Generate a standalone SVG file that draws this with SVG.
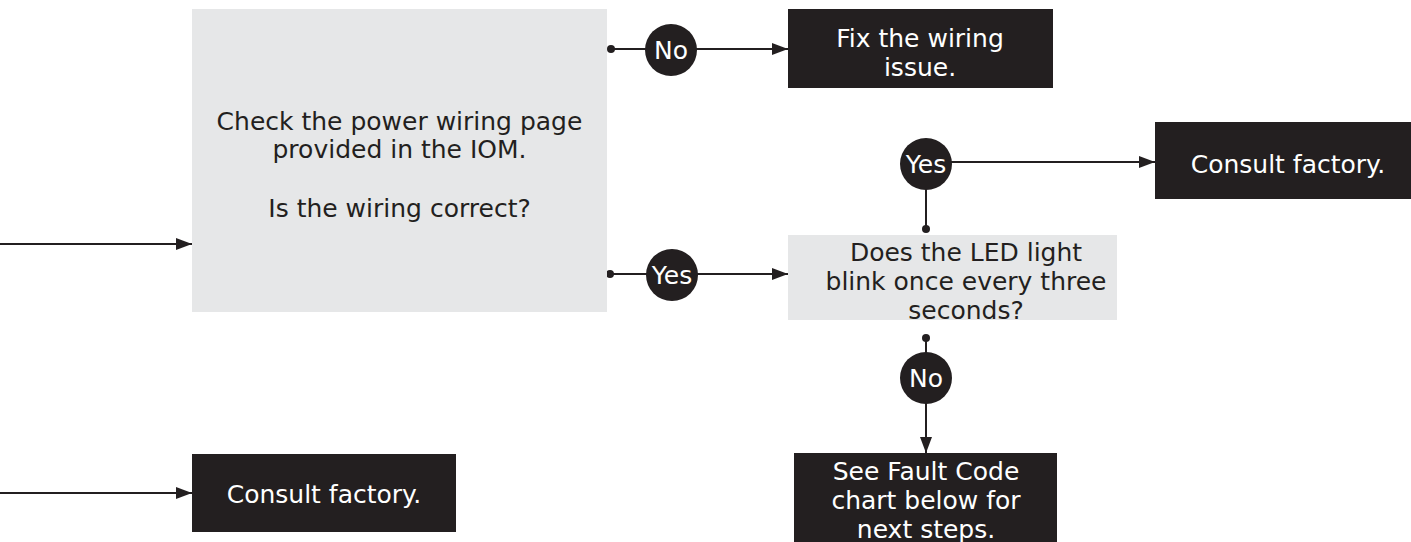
<svg xmlns="http://www.w3.org/2000/svg" width="1411" height="542" viewBox="0 0 1411 542">
<style>
text{font-family:"DejaVu Sans","Liberation Sans",sans-serif;font-size:25px;text-anchor:middle}
.q{fill:#e6e7e8}
.b{fill:#231f20}
.dt{fill:#231f20}
.wt{fill:#ffffff}
.ln{stroke:#231f20;stroke-width:2;fill:none}
.dot{fill:#231f20}
.lab{fill:#231f20}
</style>
<defs>
<marker id="ah" markerWidth="16" markerHeight="12" refX="16" refY="6" orient="auto" markerUnits="userSpaceOnUse">
<path d="M0,0 L16,6 L0,12 Z" fill="#231f20"/>
</marker>
</defs>
<g id="connectors">
<line class="ln" x1="0" y1="244" x2="192" y2="244" marker-end="url(#ah)"/>
<line class="ln" x1="0" y1="493" x2="192" y2="493" marker-end="url(#ah)"/>
<line class="ln" x1="611" y1="49" x2="788" y2="49" marker-end="url(#ah)"/>
<circle class="dot" cx="611" cy="49" r="4"/>
<line class="ln" x1="610" y1="274" x2="788" y2="274" marker-end="url(#ah)"/>
<circle class="dot" cx="610" cy="274" r="4"/>
<line class="ln" x1="926" y1="229" x2="926" y2="164"/>
<circle class="dot" cx="926" cy="229" r="4"/>
<line class="ln" x1="926" y1="162" x2="1155" y2="162" marker-end="url(#ah)"/>
<line class="ln" x1="926" y1="338" x2="926" y2="453" marker-end="url(#ah)"/>
<circle class="dot" cx="926" cy="338" r="4"/>
</g>
<g id="check-wiring">
<rect class="q" x="192" y="9" width="415" height="303"/>
<text class="dt" x="399.5" y="130">Check the power wiring page</text>
<text class="dt" x="399.5" y="158">provided in the IOM.</text>
<text class="dt" x="399.5" y="217">Is the wiring correct?</text>
</g>
<g id="fix-wiring">
<rect class="b" x="788" y="9" width="265" height="79"/>
<text class="wt" x="920" y="47">Fix the wiring</text>
<text class="wt" x="920" y="76">issue.</text>
</g>
<g id="led-blink">
<rect class="q" x="788" y="235" width="329" height="85"/>
<text class="dt" x="966" y="261">Does the LED light</text>
<text class="dt" x="966" y="290">blink once every three</text>
<text class="dt" x="966" y="319">seconds?</text>
</g>
<g id="consult-factory-1">
<rect class="b" x="1155" y="122" width="260" height="77"/>
<text class="wt" x="1288" y="173">Consult factory.</text>
</g>
<g id="fault-code">
<rect class="b" x="794" y="453" width="263" height="100"/>
<text class="wt" x="926" y="480">See Fault Code</text>
<text class="wt" x="926" y="509">chart below for</text>
<text class="wt" x="926" y="538">next steps.</text>
</g>
<g id="consult-factory-2">
<rect class="b" x="192" y="454" width="264" height="78"/>
<text class="wt" x="324" y="503">Consult factory.</text>
</g>
<g id="label-no-1">
<circle class="lab" cx="671" cy="50" r="26"/>
<text class="wt" x="671" y="59">No</text>
</g>
<g id="label-yes-1">
<circle class="lab" cx="672" cy="275" r="26"/>
<text class="wt" x="672" y="284">Yes</text>
</g>
<g id="label-yes-2">
<circle class="lab" cx="926" cy="164" r="26"/>
<text class="wt" x="926" y="173">Yes</text>
</g>
<g id="label-no-2">
<circle class="lab" cx="926" cy="378" r="26"/>
<text class="wt" x="926" y="387">No</text>
</g>
</svg>
